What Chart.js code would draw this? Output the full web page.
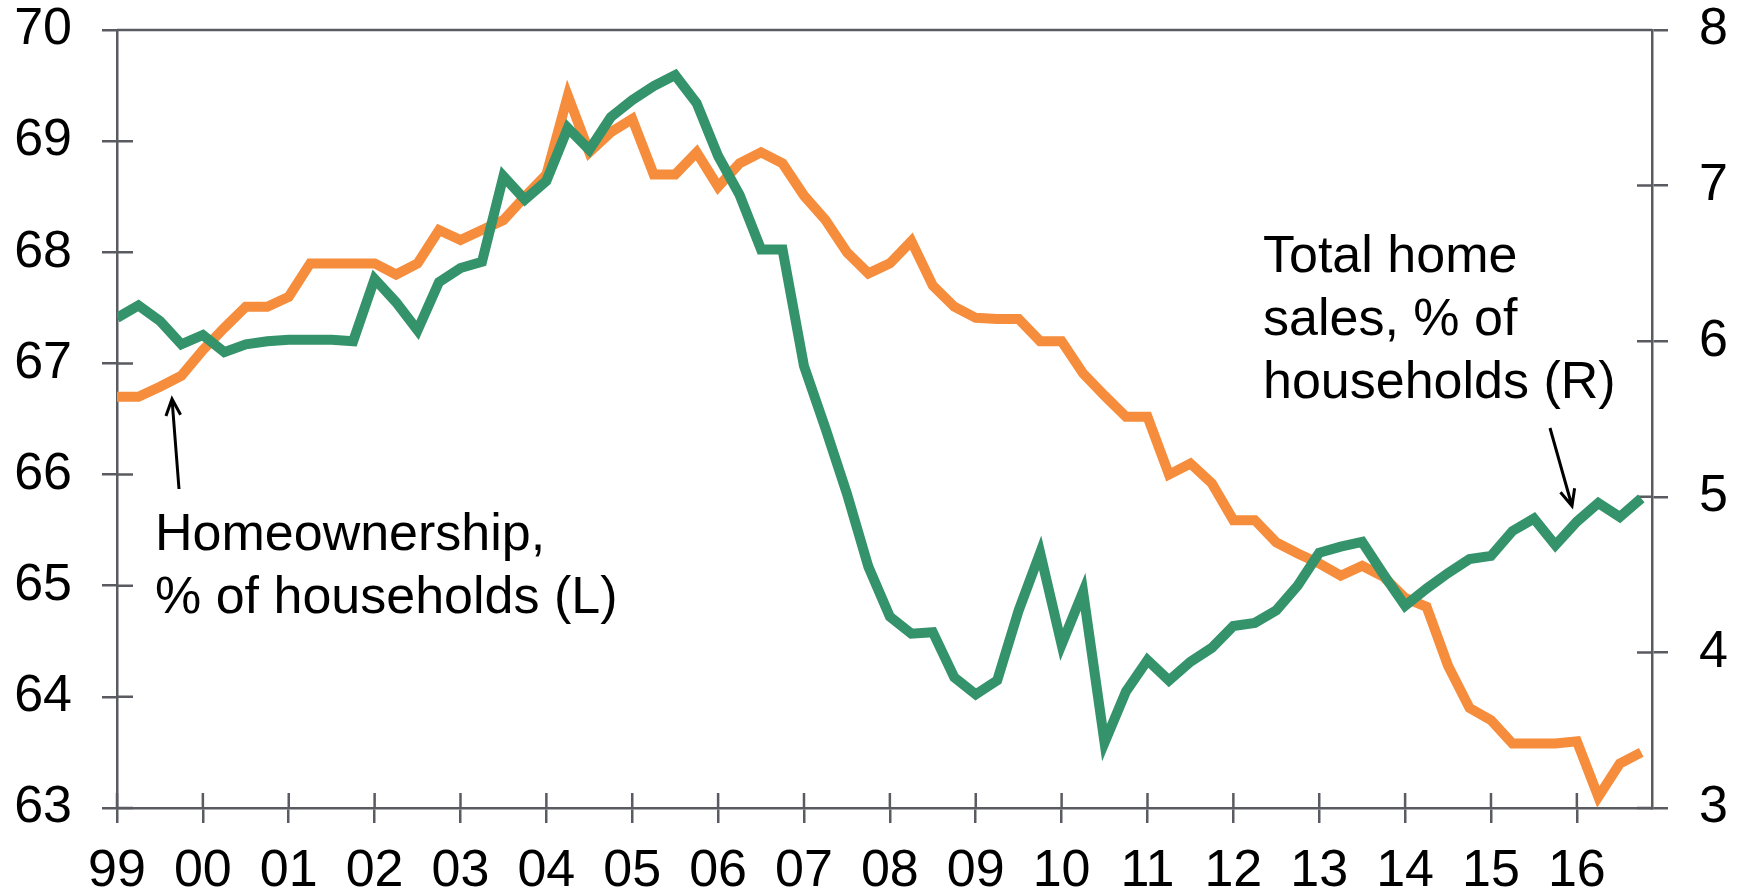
<!DOCTYPE html>
<html>
<head>
<meta charset="utf-8">
<script src="https://cdn.jsdelivr.net/npm/chart.js@4.4.0/dist/chart.umd.min.js"></script>
<style>
  html, body { margin: 0; padding: 0; background: #fff; }
  canvas { display: block; }
</style>
</head>
<body>
<canvas id="chart" width="1743" height="895"></canvas>
<script>
// quarterly, 1999Q1 - 2016Q4
const years = ['99','00','01','02','03','04','05','06','07','08','09','10','11','12','13','14','15','16'];

// Homeownership, % of households (left axis)
const homeownership = [
  66.70, 66.70, 66.79, 66.89,
  67.12, 67.32, 67.51, 67.51,
  67.60, 67.90, 67.90, 67.90,
  67.90, 67.80, 67.90, 68.20,
  68.11, 68.20, 68.29, 68.50,
  68.70, 69.41, 68.90, 69.08,
  69.20, 68.70, 68.70, 68.90,
  68.59, 68.80, 68.90, 68.80,
  68.51, 68.29, 68.00, 67.81,
  67.90, 68.10, 67.70, 67.51,
  67.41, 67.40, 67.40, 67.20,
  67.20, 66.91, 66.71, 66.52,
  66.52, 66.00, 66.10, 65.92,
  65.59, 65.59, 65.39, 65.29,
  65.20, 65.09, 65.18, 65.08,
  64.89, 64.81, 64.28, 63.90,
  63.79, 63.58, 63.58, 63.58,
  63.60, 63.10, 63.40, 63.50
];

// Total home sales, % of households (right axis)
const homeSales = [
  6.15, 6.23, 6.13, 5.98,
  6.04, 5.93, 5.98, 6.00,
  6.01, 6.01, 6.01, 6.00,
  6.40, 6.25, 6.07, 6.38,
  6.47, 6.51, 7.06, 6.91,
  7.03, 7.37, 7.23, 7.44,
  7.55, 7.64, 7.71, 7.53,
  7.19, 6.94, 6.59, 6.59,
  5.84, 5.44, 5.02, 4.55,
  4.23, 4.12, 4.13, 3.84,
  3.73, 3.82, 4.27, 4.64,
  4.05, 4.39, 3.42, 3.75,
  3.95, 3.82, 3.94, 4.03,
  4.17, 4.19, 4.27, 4.43,
  4.64, 4.68, 4.71, 4.50,
  4.30, 4.41, 4.51, 4.60,
  4.62, 4.78, 4.86, 4.69,
  4.84, 4.96, 4.87, 4.99
];

const AXIS = '#595b60';
const ORANGE = '#F58D3D';
const GREEN = '#34936A';
const FONT = '"Liberation Sans", Arial, sans-serif';

Chart.defaults.font.family = FONT;
Chart.defaults.color = '#000';

const toPoints = arr => arr.map((v, i) => ({ x: i, y: v }));

function arrow(ctx, x1, y1, x2, y2) {
  const ang = Math.atan2(y2 - y1, x2 - x1);
  const len = 18, spread = 0.42;
  ctx.beginPath();
  ctx.moveTo(x1, y1);
  ctx.lineTo(x2, y2);
  ctx.moveTo(x2 - len * Math.cos(ang - spread), y2 - len * Math.sin(ang - spread));
  ctx.lineTo(x2, y2);
  ctx.lineTo(x2 - len * Math.cos(ang + spread), y2 - len * Math.sin(ang + spread));
  ctx.stroke();
}

// top border + inner half of the crossing tick marks, then labels and arrows
const frame = {
  id: 'frame',
  beforeDatasetsDraw(chart) {
    const { ctx, chartArea: a, scales } = chart;
    ctx.save();
    ctx.strokeStyle = AXIS;
    ctx.lineWidth = 2.5;
    ctx.beginPath();
    ctx.moveTo(a.left, a.top);
    ctx.lineTo(a.right, a.top);
    scales.yL.ticks.forEach(t => {
      const y = scales.yL.getPixelForValue(t.value);
      ctx.moveTo(a.left, y); ctx.lineTo(a.left + 16, y);
    });
    scales.yR.ticks.forEach(t => {
      const y = scales.yR.getPixelForValue(t.value);
      ctx.moveTo(a.right, y); ctx.lineTo(a.right - 15, y);
    });
    scales.x.ticks.forEach(t => {
      const x = scales.x.getPixelForValue(t.value);
      ctx.moveTo(x, a.bottom); ctx.lineTo(x, a.bottom - 15);
    });
    ctx.stroke();
    ctx.restore();
  },
  afterDraw(chart) {
    const ctx = chart.ctx;
    ctx.save();
    ctx.fillStyle = '#000';
    ctx.font = '52px ' + FONT;
    ctx.textBaseline = 'alphabetic';
    ctx.textAlign = 'left';
    ctx.fillText('Homeownership,', 155, 550);
    ctx.fillText('% of households (L)', 155, 613);
    ctx.fillText('Total home', 1263, 272);
    ctx.fillText('sales, % of', 1263, 335);
    ctx.fillText('households (R)', 1263, 398);
    ctx.strokeStyle = '#000';
    ctx.lineWidth = 3;
    arrow(ctx, 179, 489, 172, 399);
    arrow(ctx, 1550, 428, 1572, 506);
    ctx.restore();
  }
};

const noPad = s => { s.paddingTop = 0; s.paddingBottom = 0; s.paddingLeft = 0; s.paddingRight = 0; };

new Chart(document.getElementById('chart'), {
  type: 'line',
  data: {
    datasets: [{
      label: 'Total home sales, % of households (R)',
      data: toPoints(homeSales),
      yAxisID: 'yR',
      borderColor: GREEN,
      borderWidth: 10,
      pointRadius: 0,
      tension: 0
    }, {
      label: 'Homeownership, % of households (L)',
      data: toPoints(homeownership),
      yAxisID: 'yL',
      borderColor: ORANGE,
      borderWidth: 10,
      pointRadius: 0,
      tension: 0
    }]
  },
  options: {
    responsive: false,
    animation: false,
    devicePixelRatio: 1,
    layout: { padding: { top: 30, left: 0, right: 0, bottom: 0 } },
    plugins: { legend: { display: false }, tooltip: { enabled: false } },
    scales: {
      x: {
        type: 'linear',
        position: 'bottom',
        min: 0,
        max: 71.5,
        afterBuildTicks: s => { s.ticks = s.ticks.filter(t => t.value % 4 === 0 && t.value / 4 < years.length); },
        ticks: {
          stepSize: 4,
          includeBounds: false,
          maxRotation: 0,
          autoSkip: false,
          padding: 17,
          font: { size: 52 },
          callback: v => years[v / 4]
        },
        grid: { drawOnChartArea: false, drawTicks: true, tickLength: 15, color: AXIS, lineWidth: 2.5 },
        border: { display: true, color: AXIS, width: 2.5 },
        afterFit: s => { s.height = 87; noPad(s); }
      },
      yL: {
        position: 'left',
        min: 63,
        max: 70,
        ticks: { stepSize: 1, padding: 30, font: { size: 52 } },
        grid: { drawOnChartArea: false, drawTicks: true, tickLength: 15, color: AXIS, lineWidth: 2.5 },
        border: { display: true, color: AXIS, width: 2.5 },
        afterFit: s => { s.width = 117; noPad(s); }
      },
      yR: {
        position: 'right',
        min: 3,
        max: 8,
        ticks: { stepSize: 1, padding: 31, font: { size: 52 } },
        grid: { drawOnChartArea: false, drawTicks: true, tickLength: 16, color: AXIS, lineWidth: 2.5 },
        border: { display: true, color: AXIS, width: 2.5 },
        afterFit: s => { s.width = 91; noPad(s); }
      }
    }
  },
  plugins: [frame]
});
</script>
</body>
</html>
